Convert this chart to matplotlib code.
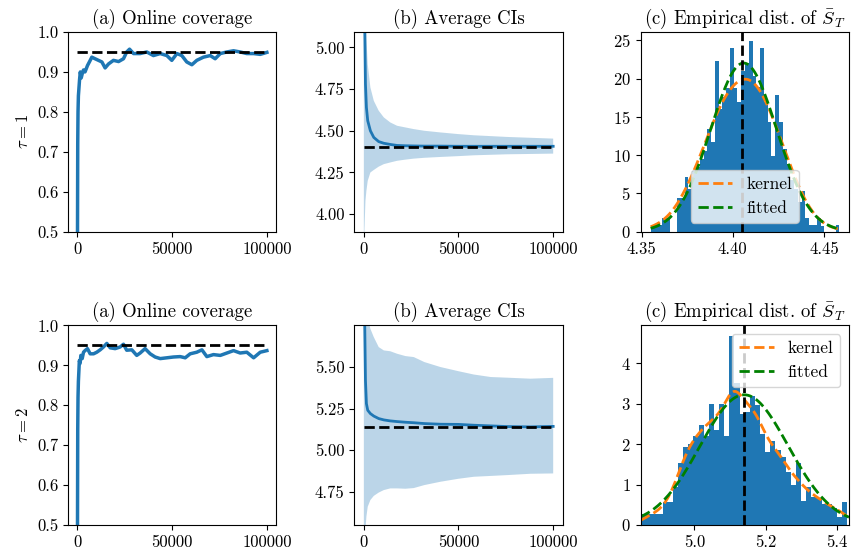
import numpy as np
import matplotlib
matplotlib.use("Agg")
import matplotlib.pyplot as plt

plt.rcParams["font.family"] = "serif"
plt.rcParams["font.serif"] = ["cmr10"]
plt.rcParams["mathtext.fontset"] = "cm"
plt.rcParams["axes.formatter.use_mathtext"] = True
plt.rcParams["font.size"] = 12

# (a) online coverage, tau = 1 and tau = 2
cov1_x = [0, 150, 300, 500, 800, 1100, 1500, 2000, 2500, 3200, 4000, 5300, 6300, 7600, 9300,
          11100, 12900, 14600, 16400, 19000, 21700, 24300, 26000, 27500, 29600, 33100, 36600,
          40100, 43700, 47200, 49800, 52500, 55100, 57700, 60400, 63000, 66500, 70100, 72700,
          75400, 78900, 82400, 85900, 89400, 93000, 96500, 100000]
cov1_y = [0.45, 0.72, 0.80, 0.84, 0.86, 0.88, 0.90, 0.885, 0.895, 0.905, 0.90, 0.916, 0.925,
          0.937, 0.933, 0.929, 0.925, 0.910, 0.920, 0.929, 0.926, 0.933, 0.950, 0.957, 0.946,
          0.946, 0.950, 0.941, 0.946, 0.941, 0.929, 0.946, 0.941, 0.925, 0.918, 0.929, 0.937,
          0.941, 0.933, 0.946, 0.950, 0.953, 0.950, 0.946, 0.946, 0.944, 0.949]
cov2_x = [0, 150, 300, 500, 800, 1000, 1400, 1800, 2500, 3200, 4000, 5300, 6700, 8500, 10200,
          12000, 13700, 15500, 17300, 19900, 22500, 24300, 26000, 28700, 31300, 33100, 35700,
          38400, 41000, 43700, 47200, 50700, 54200, 56900, 59500, 63000, 65700, 68300, 71800,
          75400, 78900, 82400, 85900, 89400, 93000, 96500, 100000]
cov2_y = [0.45, 0.74, 0.82, 0.86, 0.89, 0.912, 0.905, 0.925, 0.917, 0.933, 0.937, 0.942, 0.929,
          0.929, 0.933, 0.939, 0.946, 0.955, 0.944, 0.942, 0.946, 0.953, 0.938, 0.939, 0.925,
          0.931, 0.942, 0.929, 0.921, 0.917, 0.919, 0.921, 0.922, 0.919, 0.929, 0.933, 0.939,
          0.922, 0.927, 0.925, 0.931, 0.937, 0.931, 0.933, 0.919, 0.933, 0.937]
nominal = 0.95

# (b) average CIs
ci_x = [50, 350, 900, 1400, 2100, 3500, 5300, 7900, 10600, 14000, 17600, 22000, 26400, 32000,
        40500, 50000, 58100, 67000, 75700, 88000, 100000]
ci1_mid = [7.0, 5.3, 4.78, 4.64, 4.56, 4.50, 4.46, 4.435, 4.425, 4.418, 4.412, 4.410, 4.409,
           4.408, 4.408, 4.407, 4.407, 4.407, 4.407, 4.407, 4.407]
ci1_up = [9.0, 6.0, 5.2, 5.05, 4.90, 4.76, 4.68, 4.62, 4.58, 4.55, 4.53, 4.52, 4.51, 4.50,
          4.49, 4.48, 4.473, 4.468, 4.463, 4.458, 4.453]
ci1_lo = [3.0, 3.9, 4.08, 4.14, 4.20, 4.25, 4.265, 4.285, 4.30, 4.31, 4.32, 4.327, 4.333,
          4.338, 4.343, 4.348, 4.353, 4.356, 4.359, 4.361, 4.363]
ci2_mid = [7.0, 5.9, 5.42, 5.28, 5.24, 5.22, 5.205, 5.19, 5.182, 5.176, 5.172, 5.168, 5.165,
           5.16, 5.156, 5.155, 5.150, 5.146, 5.142, 5.140, 5.143]
ci2_up = [9.0, 7.0, 6.2, 5.95, 5.80, 5.73, 5.68, 5.62, 5.60, 5.595, 5.58, 5.566, 5.56, 5.53,
          5.50, 5.475, 5.455, 5.44, 5.436, 5.43, 5.435]
ci2_lo = [3.0, 4.3, 4.52, 4.60, 4.66, 4.70, 4.725, 4.745, 4.76, 4.77, 4.77, 4.768, 4.772,
          4.79, 4.81, 4.828, 4.84, 4.845, 4.85, 4.858, 4.86]
true1 = 4.405
true2 = 5.14

# (c) empirical distribution of S_T (density per bin)
hist1_range = (4.355, 4.4585)
hist1 = [0.8, 0.8, 0.8, 1.8, 1.8, 0, 0, 4.4, 4.4, 7.1, 5.5, 7.9, 8.5, 9.5, 10.5, 13.4, 11.7,
         22.3, 16.0, 17.6, 18.8, 24.0, 18.8, 16.9, 21.0, 22.0, 24.9, 20.4, 18.9, 24.0, 16.9,
         14.3, 9.9, 17.9, 14.3, 10.8, 8.8, 6.8, 5.5, 3.8, 5.3, 1.8, 0.9, 0.9, 1.8, 0.7, 0, 0, 0, 0.9]
hist2_range = (4.8534, 5.4298)
hist2 = [0.26, 0.26, 0.28, 0.28, 0.57, 0.57, 0.94, 1.52, 1.93, 2.0, 2.2, 2.48, 2.2, 3.0, 2.34,
         3.0, 2.2, 4.68, 3.5, 2.75, 2.79, 3.19, 2.96, 2.26, 1.8, 2.07, 1.85, 1.68, 1.31, 0.99,
         1.52, 0.59, 0.94, 0.7, 0.67, 0.53, 0.53, 0.41, 0.2, 0.57]
fit1 = (4.406, 0.0181)
fit2 = (5.14, 0.124)
bw1 = 0.008
bw2 = 0.024
xlim1 = (4.3495, 4.4637)
xlim2 = (4.849, 5.4345)
curve1_range = (4.355, 4.4585)
curve2_range = (4.849, 5.4345)
yticks1 = [0, 5, 10, 15, 20, 25]
yticks2 = [0, 1, 2, 3, 4]


def kde_from_hist(edges, dens, xs, h):
    c = 0.5 * (edges[1:] + edges[:-1])
    w = np.asarray(dens) * np.diff(edges)
    z = (xs[:, None] - c[None, :]) / h
    return (np.exp(-0.5 * z ** 2) * w).sum(axis=1) / (h * np.sqrt(2 * np.pi))


def normal_pdf(xs, m, s):
    return np.exp(-0.5 * ((xs - m) / s) ** 2) / (s * np.sqrt(2 * np.pi))


fig, axes = plt.subplots(2, 3, figsize=(8.54, 5.55), dpi=100)
fig.subplots_adjust(left=0.0796, right=0.9941, top=0.9423, bottom=0.0541,
                    wspace=0.374, hspace=0.471)

rows = [
    (cov1_x, cov1_y, ci1_mid, ci1_up, ci1_lo, true1, (3.896, 5.092), [4.0, 4.25, 4.5, 4.75, 5.0],
     hist1, hist1_range, fit1, bw1, xlim1, curve1_range, "lower center", r"$\tau = 1$", yticks1),
    (cov2_x, cov2_y, ci2_mid, ci2_up, ci2_lo, true2, (4.55, 5.75), [4.75, 5.0, 5.25, 5.5],
     hist2, hist2_range, fit2, bw2, xlim2, curve2_range, "upper right", r"$\tau = 2$", yticks2),
]

for r, (cx, cy, mid, up, lo, tv, ylim_b, yt_b, hd, hr, fit, bw, xl, cr, loc, lab, yt_c) in enumerate(rows):
    ax = axes[r, 0]
    ax.plot(cx, cy, color="C0", lw=2.5)
    ax.plot([0, 100000], [nominal, nominal], "k--", lw=2)
    ax.set_ylim(0.5, 1.0)
    ax.set_xlim(-5000, 105000)
    ax.set_xticks([0, 50000, 100000])
    ax.set_yticks([0.5, 0.6, 0.7, 0.8, 0.9, 1.0])
    ax.set_yticklabels(["0.5", "0.6", "0.7", "0.8", "0.9", "1.0"])
    ax.set_xticklabels(["0", "50000", "100000"])
    ax.set_ylabel(lab)
    ax.set_title("(a) Online coverage", fontsize=13.5)

    ax = axes[r, 1]
    ax.fill_between(ci_x, lo, up, color="C0", alpha=0.3, lw=0)
    ax.plot(ci_x, mid, color="C0", lw=2)
    ax.plot([0, 100000], [tv, tv], "k--", lw=2)
    ax.set_ylim(*ylim_b)
    ax.set_xlim(-5000, 105000)
    ax.set_xticks([0, 50000, 100000])
    ax.set_xticklabels(["0", "50000", "100000"])
    ax.set_yticks(yt_b)
    ax.set_yticklabels(["%.2f" % v for v in yt_b])
    ax.set_title("(b) Average CIs", fontsize=13.5)

    ax = axes[r, 2]
    edges = np.linspace(hr[0], hr[1], len(hd) + 1)
    centers = 0.5 * (edges[1:] + edges[:-1])
    ax.hist(centers, bins=edges, weights=hd, color="C0")
    xs = np.linspace(cr[0], cr[1], 300)
    ax.plot(xs, kde_from_hist(edges, hd, xs, bw), "--", color="C1", lw=2, label="kernel")
    ax.plot(xs, normal_pdf(xs, *fit), "g--", lw=2, label="fitted")
    ax.axvline(tv, color="k", ls="--", lw=2)
    ax.set_xlim(*xl)
    ax.set_yticks(yt_c)
    ax.legend(loc=loc, fontsize=12.5)
    ax.set_title(r"(c) Empirical dist. of $\bar{S}_T$", fontsize=13.5)

axes[0, 2].set_ylim(0, 26.1)
axes[0, 2].set_xticks([4.35, 4.40, 4.45])
axes[0, 2].set_xticklabels(["4.35", "4.40", "4.45"])
axes[1, 2].set_ylim(0, 4.93)
axes[1, 2].set_xticks([5.0, 5.2, 5.4])
axes[1, 2].set_xticklabels(["5.0", "5.2", "5.4"])

fig.savefig("out.png", dpi=100)
